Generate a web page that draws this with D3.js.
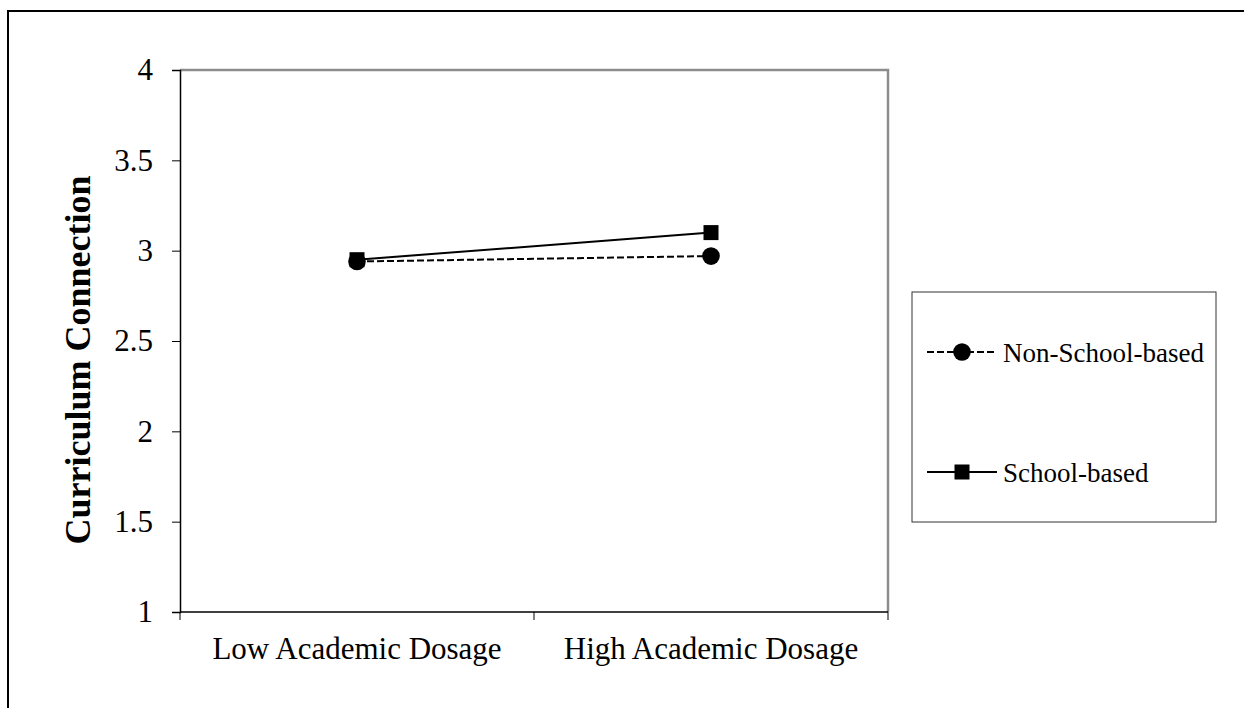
<!DOCTYPE html>
<html>
<head>
<meta charset="utf-8">
<script src="https://cdn.jsdelivr.net/npm/d3@7"></script>
<style>
  html, body { margin: 0; padding: 0; background: #fff; }
  svg { display: block; }
  text { font-family: "Liberation Serif", "Times New Roman", serif; fill: #000; }
</style>
</head>
<body>
<svg id="chart" width="1244" height="708"></svg>
<script>
// Data
const categories = ["Low Academic Dosage", "High Academic Dosage"];
const seriesNames = ["Non-School-based", "School-based"];
const nonSchoolBased = [2.94, 2.97];
const schoolBased = [2.95, 3.10];
const yTicks = [1, 1.5, 2, 2.5, 3, 3.5, 4];
const yTitle = "Curriculum Connection";

const series = [
  { name: seriesNames[0], values: nonSchoolBased, dash: "7,3", marker: "circle" },
  { name: seriesNames[1], values: schoolBased, dash: null, marker: "square" }
];

const svg = d3.select("#chart");

// Outer frame around the figure
svg.append("path")
  .attr("d", "M8,708 L8,11 L1244,11")
  .attr("fill", "none").attr("stroke", "#000").attr("stroke-width", 2);

const plot = { left: 180, right: 888, top: 70, bottom: 612 };

const x = d3.scaleBand().domain(categories).range([plot.left, plot.right]).padding(0);
const y = d3.scaleLinear().domain([1, 4]).range([plot.bottom, plot.top]);

// Plot-area border (top & right in grey)
svg.append("path")
  .attr("d", `M${plot.left},${plot.top} L${plot.right},${plot.top} L${plot.right},${plot.bottom}`)
  .attr("fill", "none").attr("stroke", "#8c8c8c").attr("stroke-width", 2.5);

// Y axis
const yAxis = d3.axisLeft(y).tickValues(yTicks).tickSize(8).tickPadding(19)
  .tickFormat(d => String(d));
const gy = svg.append("g").attr("transform", `translate(${plot.left},0)`).call(yAxis);
gy.select(".domain").attr("stroke", "#000").attr("stroke-width", 1.5);
gy.selectAll(".tick line").attr("stroke", "#000").attr("stroke-width", 1);
gy.selectAll(".tick text")
  .style("font-family", '"Liberation Serif", "Times New Roman", serif')
  .style("font-size", "31px").attr("fill", "#000");

// X axis: ticks sit on category boundaries
const boundaries = categories.map(c => x(c)).concat([x(categories[categories.length - 1]) + x.bandwidth()]);
svg.append("line")
  .attr("x1", plot.left).attr("x2", plot.right)
  .attr("y1", plot.bottom).attr("y2", plot.bottom)
  .attr("stroke", "#000").attr("stroke-width", 1.5);
svg.selectAll(".xtick").data(boundaries).enter().append("line")
  .attr("x1", d => d).attr("x2", d => d)
  .attr("y1", plot.bottom).attr("y2", plot.bottom + 8)
  .attr("stroke", "#000").attr("stroke-width", 1);
svg.selectAll(".xlabel").data(categories).enter().append("text")
  .attr("x", d => x(d) + x.bandwidth() / 2)
  .attr("y", 659)
  .attr("text-anchor", "middle")
  .style("font-size", "31px")
  .text(d => d);

// Y axis title
svg.append("text")
  .attr("transform", `translate(90,360) rotate(-90)`)
  .attr("text-anchor", "middle")
  .style("font-size", "36px").style("font-weight", "bold")
  .text(yTitle);

// Series lines and markers
const cx = c => x(c) + x.bandwidth() / 2;
const line = d3.line().x((d, i) => cx(categories[i])).y(d => y(d));

function drawMarker(g, type, px, py) {
  if (type === "circle") {
    g.append("circle").attr("cx", px).attr("cy", py).attr("r", 8.8).attr("fill", "#000");
  } else {
    g.append("rect").attr("x", px - 7.5).attr("y", py - 7.5)
      .attr("width", 15).attr("height", 15).attr("fill", "#000");
  }
}

// draw school-based first so non-school circles sit on top
[series[1], series[0]].forEach(s => {
  const g = svg.append("g");
  g.append("path").datum(s.values)
    .attr("d", line).attr("fill", "none")
    .attr("stroke", "#000").attr("stroke-width", 2)
    .attr("stroke-dasharray", s.dash);
  s.values.forEach((v, i) => drawMarker(g, s.marker, cx(categories[i]), y(v)));
});

// Legend
const legend = svg.append("g");
legend.append("rect")
  .attr("x", 912).attr("y", 292).attr("width", 304).attr("height", 230)
  .attr("fill", "#fff").attr("stroke", "#333").attr("stroke-width", 1);
const legendRows = [352, 472];
series.forEach((s, i) => {
  const ly = legendRows[i];
  legend.append("line")
    .attr("x1", 927).attr("x2", 997).attr("y1", ly).attr("y2", ly)
    .attr("stroke", "#000").attr("stroke-width", 2)
    .attr("stroke-dasharray", s.dash);
  drawMarker(legend, s.marker, 962, ly);
  legend.append("text")
    .attr("x", 1003).attr("y", ly + 10)
    .style("font-size", "27px")
    .text(s.name);
});
</script>
</body>
</html>
